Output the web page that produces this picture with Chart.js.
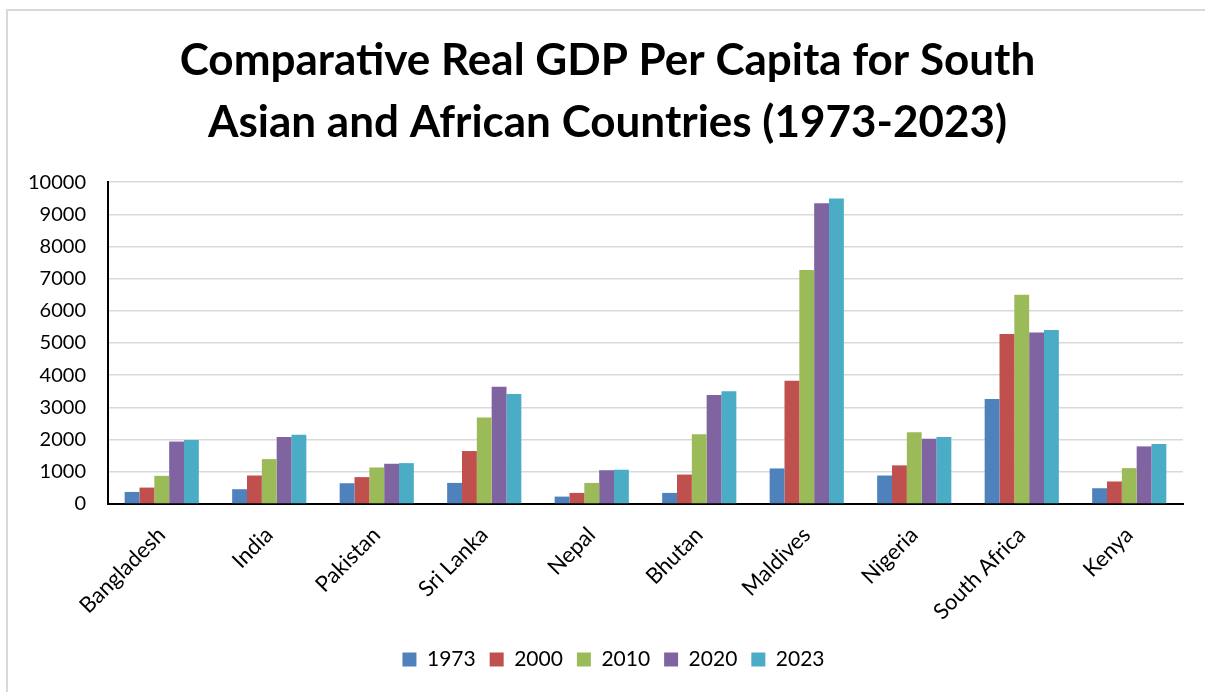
<!DOCTYPE html>
<html>
<head>
<meta charset="utf-8">
<script src="https://cdn.jsdelivr.net/npm/chart.js@4.4.1/dist/chart.umd.min.js"></script>
<style>
  html, body { margin: 0; padding: 0; background: #fff; }
  #frame { position: absolute; left: 6px; top: 9px; width: 1300px; height: 800px; border: 2px solid #d9d9d9; box-sizing: border-box; }
  #wrap { position: absolute; left: 0; top: 0; width: 1205px; height: 692px; }
</style>
</head>
<body>
<div id="frame"></div>
<div id="wrap"><canvas id="grafico"></canvas></div>
<script>
const countries = ["Bangladesh", "India", "Pakistan", "Sri Lanka", "Nepal", "Bhutan", "Maldives", "Nigeria", "South Africa", "Kenya"];
const years = ["1973", "2000", "2010", "2020", "2023"];
const gdp1973 = [375, 460, 645, 655, 230, 345, 1105, 885, 3260, 490];
const gdp2000 = [510, 885, 835, 1645, 345, 915, 3825, 1200, 5280, 700];
const gdp2010 = [875, 1395, 1135, 2690, 655, 2165, 7270, 2230, 6500, 1115];
const gdp2020 = [1940, 2085, 1250, 3645, 1050, 3385, 9345, 2030, 5325, 1790];
const gdp2023 = [1990, 2155, 1270, 3420, 1065, 3500, 9490, 2085, 5405, 1865];
const colors = ["#4F81BD", "#C0504D", "#9BBB59", "#8064A2", "#4BACC6"];
const yTicks = [0, 1000, 2000, 3000, 4000, 5000, 6000, 7000, 8000, 9000, 10000];

const series = [gdp1973, gdp2000, gdp2010, gdp2020, gdp2023];
const font = "Lato, 'Open Sans', sans-serif";

// title and legend sit a bit right of the canvas centre in the original
const nudge = {
  id: "nudge",
  afterLayout(chart) {
    chart.titleBlock.left += 26;
    chart.legend.left += 38;
  },
};

new Chart(document.getElementById("grafico"), {
  type: "bar",
  data: {
    labels: countries,
    datasets: series.map((vals, i) => ({
      label: years[i],
      data: vals,
      backgroundColor: colors[i],
      borderWidth: 0,
      barPercentage: 1,
      categoryPercentage: 0.69,
    })),
  },
  options: {
    responsive: true,
    maintainAspectRatio: false,
    animation: false,
    layout: { padding: { left: 6, right: 22, top: 0, bottom: 12 } },
    plugins: {
      title: {
        display: true,
        text: ["Comparative Real GDP Per Capita for South", "Asian and African Countries (1973-2023)"],
        color: "#000",
        font: { family: font, size: 44, weight: "bold", lineHeight: 1.41 },
        padding: { top: 30, bottom: 28 },
      },
      legend: {
        position: "bottom",
        labels: {
          color: "#000",
          font: { family: font, size: 21 },
          boxWidth: 14,
          boxHeight: 14,
          padding: 14,
        },
      },
      tooltip: { enabled: false },
    },
    scales: {
      x: {
        grid: { display: false },
        border: { color: "#000", width: 2 },
        // rotated first label should not push the plot to the right
        afterFit: (scale) => { scale.paddingLeft = 0; },
        ticks: {
          color: "#000",
          font: { family: font, size: 22 },
          minRotation: 45,
          maxRotation: 45,
          padding: 10,
        },
      },
      y: {
        min: 0,
        max: 10000,
        afterBuildTicks: (axis) => { axis.ticks = yTicks.map((v) => ({ value: v })); },
        grid: { color: "#d9d9d9", lineWidth: 1.5, drawTicks: false },
        border: { color: "#000", width: 2 },
        ticks: {
          color: "#000",
          font: { family: font, size: 20 },
          padding: 22,
          callback: (v) => String(v),
        },
      },
    },
  },
  plugins: [nudge],
});
</script>
</body>
</html>
